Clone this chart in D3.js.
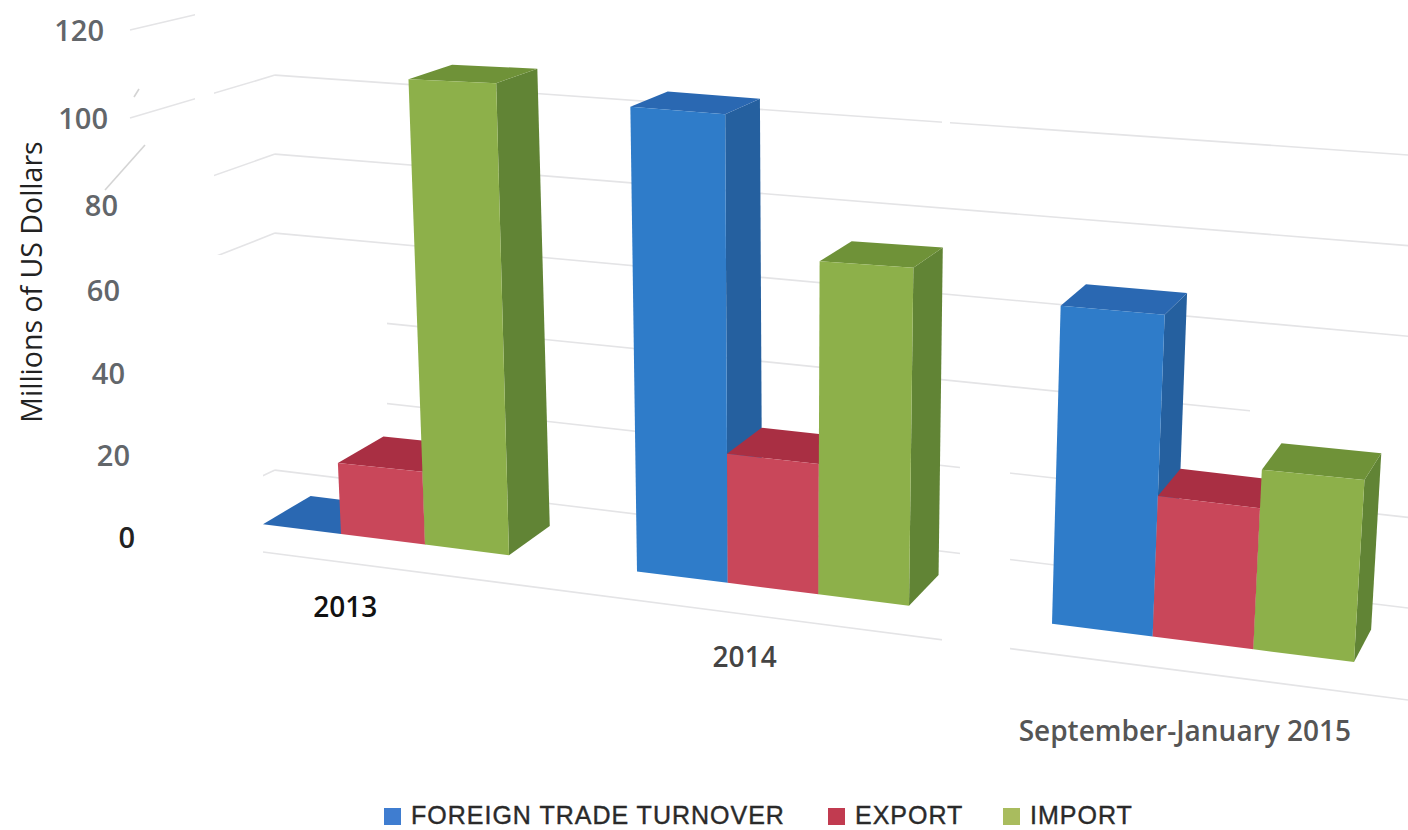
<!DOCTYPE html>
<html lang="en">
<head>
	<title>Foreign trade turnover</title>
	<meta charset="utf-8" />
	<script src="https://cdn.jsdelivr.net/npm/d3@7"></script>
	<style>
		html, body { margin: 0; padding: 0; background: #fff; }
		svg { display: block; }
		text { font-family: "Open Sans", sans-serif; }
	</style>
</head>
<body>
<script type="text/javascript">

	// values, millions of US dollars
	var categories = ['2013', '2014', 'September-January 2015'];
	var seriesNames = ['FOREIGN TRADE TURNOVER', 'EXPORT', 'IMPORT'];
	var turnover = [0, 101, 63];
	var exports_ = [17, 27.8, 27.5];
	var imports_ = [108.5, 71, 35];
	var yTicks = [0, 20, 40, 60, 80, 100, 120];

	var seriesValues = [turnover, exports_, imports_];
	var frontColors = ['#2f7cc9', '#c9475a', '#8db04a'];
	var topColors = ['#2a68b2', '#a92f43', '#6f9238'];
	var sideColors = ['#25609f', '#a92f43', '#618435'];
	var legendColors = ['#3f7dd0', '#c13b50', '#a9bc5e'];

	var width = 1408, height = 830;
	var svg = d3.select('body').append('svg').attr('width', width).attr('height', height);

	// the chart is a stitched scan of a 3D chart, so the scales are piecewise
	var groupStep = 4.5; // three bars plus a gap of one and a half bars
	var edgeX = d3.scaleLinear().domain([0, 1, 3, 4.5, 7.5, 9, 12]).range([263, 341, 509, 637, 909, 1052, 1354]);
	var baseY = d3.scaleLinear().domain([341, 1354]).range([534, 662]);
	var pxPerUnit = d3.scaleLinear()
		.domain([0, 1, 2, 3, 4.5, 5.5, 6.5, 7.5, 9, 10, 11, 12])
		.range([4.1, 4.18, 4.29, 4.35, 4.6, 4.64, 4.69, 4.76, 5.05, 5.11, 5.13, 5.2]);
	var depthX = d3.scaleLinear().domain([0, 1408]).range([55, 15.6]);
	var depthY = d3.scaleLinear().domain([0, 830]).range([12, 37.7]);
	var vanishX = 780, lean = 1e-4;

	function project(edge, value, depth) {
		var bx = edgeX(edge);
		var h = value * pxPerUnit(edge);
		var x = bx + (bx - vanishX) * lean * h;
		var y = baseY(bx) - h;
		return [x + depth * depthX(x), y - depth * depthY(y)];
	}

	// back wall and left wall grid
	var wallY0 = d3.scaleLinear().domain([340, 1375]).range([478, 604]);
	var wallK = d3.scaleLinear().domain([275, 600, 942, 1408]).range([3.95, 4.1, 4.28, 4.53]);
	var cornerX = 275, axisX = 130;
	var axisY = d3.scaleLinear().domain(yTicks).range([537, 455, 373, 290, 205, 118, 30]);
	var labelRight = d3.scaleLinear().domain(yTicks).range([135, 130, 125, 120, 118, 108, 104]);
	function wallPoint(x, v) { return [x, wallY0(x) - v * wallK(x)]; }

	var line = d3.line();
	var grid = svg.append('g').attr('fill', 'none').attr('stroke', '#e4e4e6').attr('stroke-width', 1.6);

	grid.selectAll('.back')
		.data(yTicks.slice(0, 6))
		.enter().append('path')
		.attr('class', 'back')
		.attr('d', function(v) { return line([wallPoint(cornerX, v), wallPoint(width, v)]); });

	grid.selectAll('.side')
		.data(yTicks)
		.enter().append('path')
		.attr('class', 'side')
		.attr('d', function(v) { return line([[axisX, axisY(v)], wallPoint(cornerX, v)]); });

	// floor front edge
	var floorY = d3.scaleLinear().domain([263, 1408]).range([552, 700]);
	grid.append('path').attr('d', line([[263, floorY(263)], [width, floorY(width)]]));

	// white-out areas of the scan, they cut the grid lines into pieces
	var scanPatches = [
		[0, 150, 214, 680], [195, 0, 19, 150], [214, 0, 61, 60],
		[214, 255, 173, 175], [214, 430, 49, 400],
		[960, 430, 50, 400], [942, 625, 68, 40], [942, 110, 8, 20], [1250, 400, 158, 45]
	];
	svg.append('g').selectAll('rect')
		.data(scanPatches)
		.enter().append('rect')
		.attr('x', function(d) { return d[0]; })
		.attr('y', function(d) { return d[1]; })
		.attr('width', function(d) { return d[2]; })
		.attr('height', function(d) { return d[3]; })
		.attr('fill', '#fff');

	// stray pen marks on the scan next to the axis
	var scanMarks = [[[105, 190], [145, 145]], [[134, 97], [139, 89]]];
	svg.append('g').selectAll('path')
		.data(scanMarks)
		.enter().append('path')
		.attr('d', line)
		.attr('fill', 'none')
		.attr('stroke', '#d4d4d4')
		.attr('stroke-width', 1.6);

	// bars, painted left to right so later bars cover earlier sides
	var bars = [];
	categories.forEach(function(c, g) {
		seriesNames.forEach(function(n, s) {
			bars.push({ e0: g * groupStep + s, e1: g * groupStep + s + 1, value: seriesValues[s][g], s: s });
		});
	});

	var barG = svg.append('g').selectAll('g')
		.data(bars)
		.enter().append('g');

	barG.append('path')
		.attr('fill', function(d) { return sideColors[d.s]; })
		.attr('d', function(d) {
			return line([project(d.e1, 0, 0), project(d.e1, d.value, 0), project(d.e1, d.value, 1), project(d.e1, 0, 1)]) + 'Z';
		});

	barG.append('path')
		.attr('fill', function(d) { return topColors[d.s]; })
		.attr('d', function(d) {
			return line([project(d.e0, d.value, 0), project(d.e0, d.value, 1), project(d.e1, d.value, 1), project(d.e1, d.value, 0)]) + 'Z';
		});

	barG.append('path')
		.attr('fill', function(d) { return frontColors[d.s]; })
		.attr('d', function(d) {
			return line([project(d.e0, 0, 0), project(d.e0, d.value, 0), project(d.e1, d.value, 0), project(d.e1, 0, 0)]) + 'Z';
		});

	// y axis
	var axis = svg.append('g')
		.call(d3.axisLeft(axisY).tickValues(yTicks).tickSize(0));
	axis.select('.domain').remove();
	axis.selectAll('.tick text')
		.attr('x', function(d) { return labelRight(d); })
		.attr('dy', '0.35em')
		.style('font-family', '"Open Sans", sans-serif')
		.style('font-size', '29px')
		.style('font-weight', 600)
		.attr('fill', function(d) { return d === 0 ? '#222' : '#62666a'; });

	svg.append('text')
		.attr('transform', 'translate(31,282) rotate(-90)')
		.attr('text-anchor', 'middle')
		.attr('dominant-baseline', 'central')
		.style('font-size', '28.5px')
		.attr('fill', '#222')
		.text('Millions of US Dollars');

	// category labels sit below the group, pulled left by the depth shift
	var labelDrop = d3.scaleLinear().domain([0, 1, 2]).range([67, 67, 87]);
	var labelFill = ['#111', '#444', '#555'];
	svg.append('g').selectAll('text')
		.data(categories)
		.enter().append('text')
		.attr('x', function(d, g) { var c = edgeX(g * groupStep + 1.5); return c - depthX(c) * 0.85; })
		.attr('y', function(d, g) { return baseY(edgeX(g * groupStep + 1.5)) + labelDrop(g); })
		.attr('text-anchor', 'middle')
		.attr('dominant-baseline', 'central')
		.style('font-size', '28px')
		.style('font-weight', 600)
		.attr('fill', function(d, g) { return labelFill[g]; })
		.text(function(d) { return d; });

	// legend
	var legendX = [384, 828, 1003];
	var legend = svg.append('g').selectAll('g')
		.data(seriesNames)
		.enter().append('g')
		.attr('transform', function(d, i) { return 'translate(' + legendX[i] + ',824)'; });
	legend.append('rect')
		.attr('y', -16)
		.attr('width', 17)
		.attr('height', 17)
		.attr('fill', function(d, i) { return legendColors[i]; });
	legend.append('text')
		.attr('x', 27)
		.style('font-family', '"Liberation Sans", sans-serif')
		.style('font-size', '25px')
		.style('letter-spacing', '1px')
		.attr('fill', '#2a2a2a')
		.attr('stroke', '#2a2a2a')
		.attr('stroke-width', 0.4)
		.text(function(d) { return d; });

</script>
</body>
</html>
